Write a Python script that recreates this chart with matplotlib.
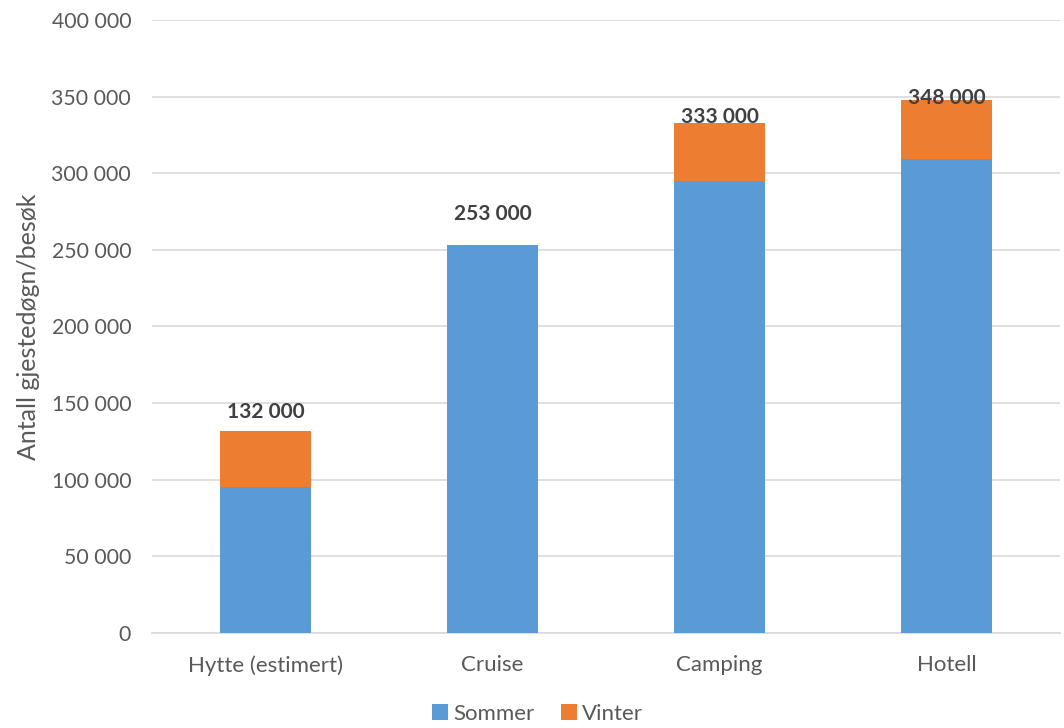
import matplotlib
matplotlib.use("Agg")
import matplotlib.pyplot as plt
from matplotlib.ticker import FuncFormatter

plt.rcParams['font.family'] = ['Lato', 'DejaVu Sans']

categories = ["Hytte (estimert)", "Cruise", "Camping", "Hotell"]
sommer = [95000, 253000, 295000, 309000]
vinter = [37000, 0, 38000, 39000]
totals = [132000, 253000, 333000, 348000]
total_labels = ["132 000", "253 000", "333 000", "348 000"]
yticks = [0, 50000, 100000, 150000, 200000, 250000, 300000, 350000, 400000]

# vertical offset (points) of each total label above its bar
label_offsets = [6, 15, -3, -6]

BLUE = "#5B9BD5"
ORANGE = "#ED7D31"
TEXT = "#595959"

fig = plt.figure(figsize=(10.64, 7.28), dpi=100)
ax = fig.add_axes([152 / 1064, 1 - 633 / 728, (1060 - 152) / 1064, (633 - 20) / 728])

x = list(range(len(categories)))
ax.bar(x, sommer, width=0.4, color=BLUE, label="Sommer", zorder=3)
ax.bar(x, vinter, width=0.4, bottom=sommer, color=ORANGE, label="Vinter", zorder=3)

for xi, tot, lab, off in zip(x, totals, total_labels, label_offsets):
    ax.annotate(lab, (xi, tot), xytext=(0, off), textcoords="offset points",
                ha="center", va="bottom", fontsize=15, fontweight="bold",
                color="#404040", zorder=4)

ax.set_xlim(-0.5, len(categories) - 0.5)
ax.set_ylim(0, 400000)
ax.set_yticks(yticks)
ax.yaxis.set_major_formatter(FuncFormatter(lambda v, p: f"{int(v):,}".replace(",", " ")))
ax.set_xticks(x)
ax.set_xticklabels(categories)

ax.grid(axis="y", color="#D9D9D9", linewidth=1.2, zorder=0)
ax.set_axisbelow(True)
for s in ["top", "right", "left"]:
    ax.spines[s].set_visible(False)
ax.spines["bottom"].set_color("#D9D9D9")
ax.spines["bottom"].set_linewidth(1.2)

ax.tick_params(axis="y", length=0, labelsize=15.3, labelcolor=TEXT, pad=15)
ax.tick_params(axis="x", length=0, labelsize=16, labelcolor=TEXT, pad=16)

ax.set_ylabel("Antall gjestedøgn/besøk", fontsize=18, color=TEXT, labelpad=8)

leg = fig.legend(loc="lower center", bbox_to_anchor=(0.505, -0.022), ncol=2, frameon=False,
                 fontsize=16, handlelength=0.75, handleheight=0.75, handletextpad=0.2,
                 columnspacing=1.2)
for t in leg.get_texts():
    t.set_color(TEXT)

fig.savefig("out.png", dpi=100)
